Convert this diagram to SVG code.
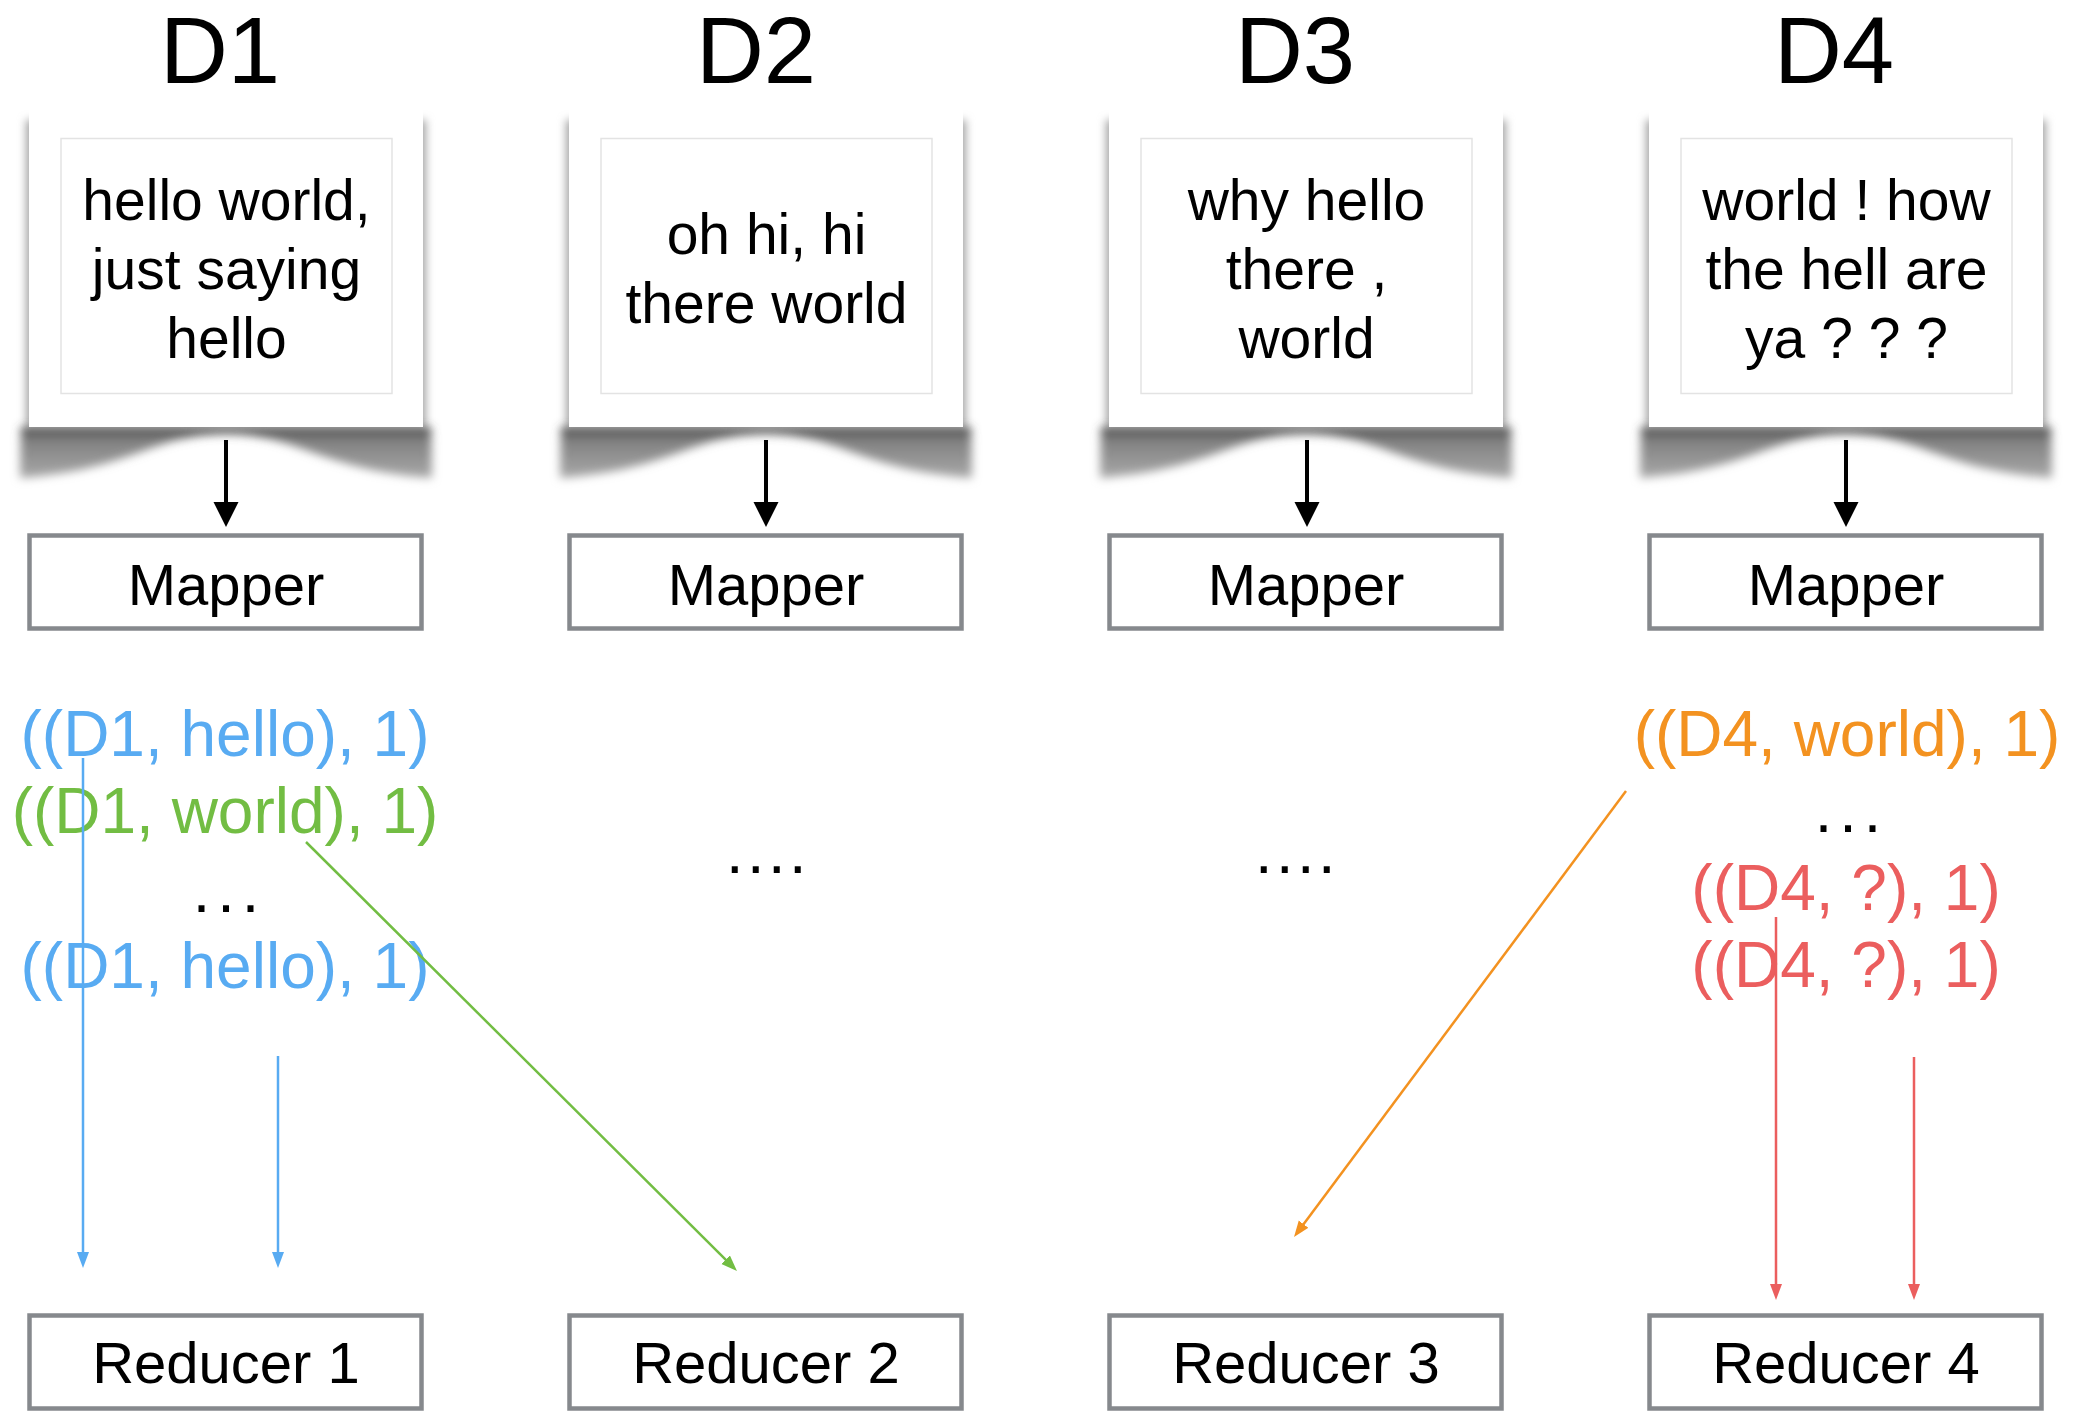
<svg xmlns="http://www.w3.org/2000/svg" width="2078" height="1413" viewBox="0 0 2078 1413">
<defs>
<style>
text{font-family:"Liberation Sans",Arial,sans-serif;text-anchor:middle;fill:#000}
.lbl{font-size:94px}
.doc{font-size:57px}
.box{fill:#fff;stroke:#86898d;stroke-width:4.5}
.boxt{font-size:58px}
.card{fill:#fff}
.inner{fill:#fff;stroke:#e3e3e3;stroke-width:1.5}
.kv{font-size:64px}
.dots{font-size:63px}
.blue{fill:#58abf2}
.green{fill:#72bd43}
.orange{fill:#f39220}
.red{fill:#eb5e5e}
.c{fill:none;stroke-width:2.5}
</style>
<filter id="sblur" x="-10%" y="-30%" width="120%" height="160%"><feGaussianBlur stdDeviation="4"/></filter>
<filter id="sblur2" x="-10%" y="-40%" width="120%" height="180%"><feGaussianBlur stdDeviation="5"/></filter>
<linearGradient id="sg" gradientUnits="userSpaceOnUse" x1="0" y1="427" x2="0" y2="478">
<stop offset="0" stop-color="#3c3c3c"/><stop offset="0.25" stop-color="#808080"/><stop offset="1" stop-color="#a8a8a8"/>
</linearGradient>
<g id="cardshape">
<rect x="26" y="120" width="400" height="307" fill="#a5a5a5" filter="url(#sblur)"/>
<path d="M21,427 L431,427 L432,478 C320,470 300,434 226,434 C152,434 132,470 20,478 Z" fill="url(#sg)" filter="url(#sblur2)"/>
<rect class="card" x="29" y="103" width="394" height="324"/>
<rect class="inner" x="61" y="138.5" width="331" height="255"/>
</g>
<marker id="mk" markerUnits="userSpaceOnUse" markerWidth="26" markerHeight="26" refX="0" refY="12.5" orient="auto"><path d="M0,0 L25,12.5 L0,25 Z" fill="#000"/></marker>
<marker id="mb" markerUnits="userSpaceOnUse" markerWidth="18" markerHeight="14" refX="6" refY="6" orient="auto"><path d="M0,0 L16,6 L0,12 Z" fill="#58abf2"/></marker>
<marker id="mg" markerUnits="userSpaceOnUse" markerWidth="18" markerHeight="14" refX="6" refY="6" orient="auto"><path d="M0,0 L16,6 L0,12 Z" fill="#72bd43"/></marker>
<marker id="mo" markerUnits="userSpaceOnUse" markerWidth="18" markerHeight="14" refX="6" refY="6" orient="auto"><path d="M0,0 L16,6 L0,12 Z" fill="#f39220"/></marker>
<marker id="mr" markerUnits="userSpaceOnUse" markerWidth="18" markerHeight="14" refX="6" refY="6" orient="auto"><path d="M0,0 L16,6 L0,12 Z" fill="#eb5e5e"/></marker>
</defs>
<rect width="2078" height="1413" fill="#fff"/>

<g id="label-D1"><text class="lbl" x="220" y="83">D1</text></g>
<g id="label-D2"><text class="lbl" x="756" y="83">D2</text></g>
<g id="label-D3"><text class="lbl" x="1295" y="83">D3</text></g>
<g id="label-D4"><text class="lbl" x="1834" y="83">D4</text></g>

<g id="doc-D1">
<use href="#cardshape"/>
<text class="doc" x="226.5" y="220">hello world,</text>
<text class="doc" x="226.5" y="289">just saying</text>
<text class="doc" x="226.5" y="358">hello</text>
</g>
<g id="doc-D2" transform="translate(540,0)">
<use href="#cardshape"/>
<text class="doc" x="226.5" y="254">oh hi, hi</text>
<text class="doc" x="226.5" y="323">there world</text>
</g>
<g id="doc-D3" transform="translate(1080,0)">
<use href="#cardshape"/>
<text class="doc" x="226.5" y="220">why hello</text>
<text class="doc" x="226.5" y="289">there ,</text>
<text class="doc" x="226.5" y="358">world</text>
</g>
<g id="doc-D4" transform="translate(1620,0)">
<use href="#cardshape"/>
<text class="doc" x="226.5" y="220">world ! how</text>
<text class="doc" x="226.5" y="289">the hell are</text>
<text class="doc" x="226.5" y="358">ya ? ? ?</text>
</g>

<g id="mapper-1"><rect class="box" x="29.5" y="535.5" width="392" height="93"/><text class="boxt" x="226" y="605">Mapper</text></g>
<g id="mapper-2"><rect class="box" x="569.5" y="535.5" width="392" height="93"/><text class="boxt" x="766" y="605">Mapper</text></g>
<g id="mapper-3"><rect class="box" x="1109.5" y="535.5" width="392" height="93"/><text class="boxt" x="1306" y="605">Mapper</text></g>
<g id="mapper-4"><rect class="box" x="1649.5" y="535.5" width="392" height="93"/><text class="boxt" x="1846" y="605">Mapper</text></g>

<g id="out-1">
<text class="kv blue" x="225" y="756">((D1, hello), 1)</text>
<text class="kv green" x="225" y="833">((D1, world), 1)</text>
<text class="dots" x="229.5" y="912" letter-spacing="7">...</text>
<text class="kv blue" x="225" y="988">((D1, hello), 1)</text>
</g>
<g id="out-2"><text class="dots" x="768" y="873" letter-spacing="3.5">....</text></g>
<g id="out-3"><text class="dots" x="1297" y="873" letter-spacing="3.5">....</text></g>
<g id="out-4">
<text class="kv orange" x="1847" y="756">((D4, world), 1)</text>
<text class="dots" x="1851.5" y="832" letter-spacing="7">...</text>
<text class="kv red" x="1846" y="910">((D4, ?), 1)</text>
<text class="kv red" x="1846" y="987">((D4, ?), 1)</text>
</g>

<g id="reducer-1"><rect class="box" x="29.5" y="1315.5" width="392" height="93"/><text class="boxt" x="226" y="1383">Reducer 1</text></g>
<g id="reducer-2"><rect class="box" x="569.5" y="1315.5" width="392" height="93"/><text class="boxt" x="766" y="1383">Reducer 2</text></g>
<g id="reducer-3"><rect class="box" x="1109.5" y="1315.5" width="392" height="93"/><text class="boxt" x="1306" y="1383">Reducer 3</text></g>
<g id="reducer-4"><rect class="box" x="1649.5" y="1315.5" width="392" height="93"/><text class="boxt" x="1846" y="1383">Reducer 4</text></g>

<g id="connectors">
<line x1="226" y1="440" x2="226" y2="502" stroke="#000" stroke-width="4" marker-end="url(#mk)"/>
<line x1="766" y1="440" x2="766" y2="502" stroke="#000" stroke-width="4" marker-end="url(#mk)"/>
<line x1="1307" y1="440" x2="1307" y2="502" stroke="#000" stroke-width="4" marker-end="url(#mk)"/>
<line x1="1846" y1="440" x2="1846" y2="502" stroke="#000" stroke-width="4" marker-end="url(#mk)"/>
<line class="c" x1="83" y1="758" x2="83" y2="1258" stroke="#58abf2" marker-end="url(#mb)"/>
<line class="c" x1="278" y1="1056" x2="278" y2="1258" stroke="#58abf2" marker-end="url(#mb)"/>
<line class="c" x1="306" y1="842" x2="729.9" y2="1263.9" stroke="#72bd43" marker-end="url(#mg)"/>
<line class="c" x1="1626" y1="791" x2="1300" y2="1229" stroke="#f39220" marker-end="url(#mo)"/>
<line class="c" x1="1776" y1="917" x2="1776" y2="1290" stroke="#eb5e5e" marker-end="url(#mr)"/>
<line class="c" x1="1914" y1="1057" x2="1914" y2="1290" stroke="#eb5e5e" marker-end="url(#mr)"/>
</g>
</svg>
